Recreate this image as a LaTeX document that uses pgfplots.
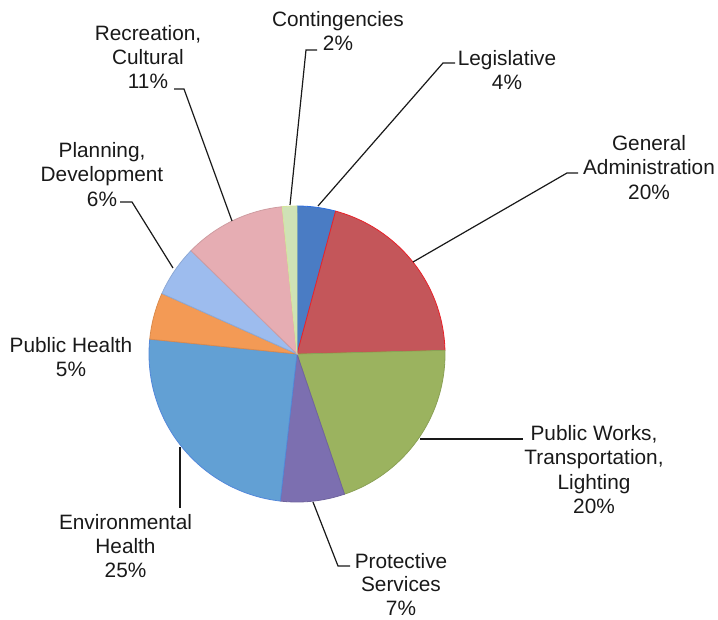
\documentclass[border=0pt]{standalone}
\usepackage{pgfplots}
\pgfplotsset{compat=1.18}
\usepackage{fontspec}
\setmainfont{Liberation Sans}
\definecolor{cLeg}{HTML}{4A7CC4}
\definecolor{eLeg}{HTML}{2F6FE0}
\definecolor{cGA}{HTML}{C4565A}
\definecolor{eGA}{HTML}{E8222A}
\definecolor{cPW}{HTML}{9BB35F}
\definecolor{cPS}{HTML}{7C6FB0}
\definecolor{cEH}{HTML}{62A0D4}
\definecolor{cPH}{HTML}{F39A55}
\definecolor{cPD}{HTML}{9DBCEE}
\definecolor{cRC}{HTML}{E6ADB3}
\definecolor{cCO}{HTML}{CFE2B6}
\tikzset{lbl/.style={font=\fontsize{20.8}{24.2}\selectfont, align=center, anchor=north, inner sep=0pt, text=black!90}}
% slice: cumulative start %, cumulative end %, fill, edge
\newcommand\slice[4]{%
  \addplot[fill=#3, draw=#4, line width=0.8pt, domain=#1*3.6:#2*3.6, samples=80, variable=\t]
    ({297+148*sin(\t)},{354-148*cos(\t)}) -- (axis cs:297,354) -- cycle;}
\begin{document}
\begin{tikzpicture}
\begin{axis}[
  x=1pt, y=1pt, xmin=0, xmax=718, ymin=0, ymax=620,
  y dir=reverse, hide axis, clip=false,
]
\path (axis cs:0,0) rectangle (axis cs:718,620);
% values (%): 4.2, 20.4, 20.2, 7.0, 24.8, 5.1, 5.6, 11.1, 1.6
\slice{0}{4.2}{cLeg}{eLeg}
\slice{4.2}{24.6}{cGA}{eGA}
\slice{24.6}{44.8}{cPW}{cPW!90!black}
\slice{44.8}{51.8}{cPS}{cPS!90!black}
\slice{51.8}{76.6}{cEH}{cEH!85!blue}
\slice{76.6}{81.7}{cPH}{cPH!90!black}
\slice{81.7}{87.3}{cPD}{cPD!90!black}
\slice{87.3}{98.4}{cRC}{cRC!90!black}
\slice{98.4}{100}{cCO}{cCO!85!yellow}
% leader lines
\addplot[black!90, line width=1.2pt] coordinates {(174,89) (184,89) (232,221)};
\addplot[black!90, line width=1.2pt] coordinates {(317,50) (306,50) (290,205)};
\addplot[black!90, line width=1.2pt] coordinates {(455,63) (443,63) (318,206)};
\addplot[black!90, line width=1.2pt] coordinates {(578,173) (567,173) (413,262)};
\addplot[black!90, line width=1.2pt] coordinates {(420,439) (523,439)};
\addplot[black!90, line width=1.2pt] coordinates {(313,502) (338,566) (350,566)};
\addplot[black!90, line width=1.2pt] coordinates {(180,447) (180,508)};
\addplot[black!90, line width=1.2pt] coordinates {(120,202) (132,202) (173,268)};
% labels
\node[lbl] at (axis cs:148,25) {Recreation,\\Cultural\\11\%};
\node[lbl] at (axis cs:338,11) {Contingencies\\2\%};
\node[lbl] at (axis cs:507,50.5) {Legislative\\4\%};
\node[lbl] at (axis cs:649,135.5) {General\\Administration\\20\%};
\node[lbl] at (axis cs:594,425.5) {Public Works,\\Transportation,\\Lighting\\20\%};
\node[lbl, font=\fontsize{20.8}{23.6}\selectfont] at (axis cs:401,553) {Protective\\Services\\7\%};
\node[lbl] at (axis cs:125.5,514) {Environmental\\Health\\25\%};
\node[lbl] at (axis cs:71,337.5) {Public Health\\5\%};
\node[lbl] at (axis cs:102,142.5) {Planning,\\Development\\6\%};
\end{axis}
\end{tikzpicture}
\end{document}
